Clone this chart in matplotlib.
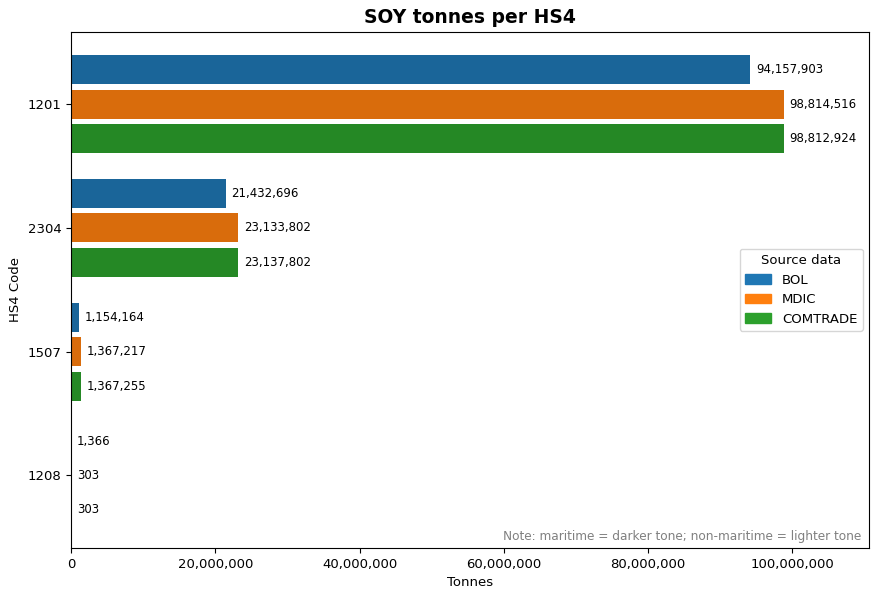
import matplotlib
matplotlib.use("Agg")
import matplotlib.pyplot as plt
import matplotlib.ticker as ticker
import matplotlib.colors as mcolors
from matplotlib.patches import Patch
import numpy as np

HS4_CODES = ["1201", "2304", "1507", "1208"]
SOURCES = ["BOL", "MDIC", "COMTRADE"]
BASE_COLORS = ["#1f77b4", "#ff7f0e", "#2ca02c"]

# total tonnes per source, per HS4 code
BOL_TOTAL = [94157903, 21432696, 1154164, 1366]
MDIC_TOTAL = [98814516, 23133802, 1367217, 303]
COMTRADE_TOTAL = [98812924, 23137802, 1367255, 303]

# maritime share (rest is non-maritime)
BOL_MARITIME = [94157903, 21432696, 1154164, 1366]
MDIC_MARITIME = [98814516, 23133802, 1367217, 303]
COMTRADE_MARITIME = [98812924, 23137802, 1367255, 303]

TOTALS = [BOL_TOTAL, MDIC_TOTAL, COMTRADE_TOTAL]
MARITIME = [BOL_MARITIME, MDIC_MARITIME, COMTRADE_MARITIME]


def _shade(color, factor):
    r, g, b = mcolors.to_rgb(color)
    return (r * factor, g * factor, b * factor)


def _lighten(color, amount):
    r, g, b = mcolors.to_rgb(color)
    return (r + (1 - r) * amount, g + (1 - g) * amount, b + (1 - b) * amount)


fig, ax = plt.subplots(figsize=(8.78, 6.0), dpi=100)

y = np.arange(len(HS4_CODES))
height = 0.235
offsets = [-0.278, 0.0, 0.278]
vmax = max(max(t) for t in TOTALS)

for i, src in enumerate(SOURCES):
    mar = np.array(MARITIME[i], dtype=float)
    tot = np.array(TOTALS[i], dtype=float)
    non = tot - mar
    ax.barh(y + offsets[i], mar, height=height, color=_shade(BASE_COLORS[i], 0.85))
    ax.barh(y + offsets[i], non, left=mar, height=height, color=_lighten(BASE_COLORS[i], 0.45))
    for yy, val in zip(y + offsets[i], tot):
        ax.text(val + vmax * 0.008, yy, f"{val:,.0f}", va="center", ha="left", fontsize=8.5)

ax.set_yticks(y)
ax.set_yticklabels(HS4_CODES)
ax.tick_params(labelsize=9.5)
ax.invert_yaxis()
ax.set_xlim(0, vmax * 1.12)
ax.xaxis.set_major_formatter(ticker.FuncFormatter(lambda x, _: f"{x:,.0f}"))

ax.set_xlabel("Tonnes", fontsize=9.5)
ax.set_ylabel("HS4 Code", fontsize=9.5)
ax.set_title("SOY tonnes per HS4", fontsize=13.5, fontweight="bold")

handles = [Patch(color=c, label=s) for c, s in zip(BASE_COLORS, SOURCES)]
ax.legend(handles=handles, title="Source data", loc="center right", fontsize=9.5, title_fontsize=9.5)

ax.text(0.99, 0.01, "Note: maritime = darker tone; non-maritime = lighter tone",
        transform=ax.transAxes, ha="right", va="bottom", fontsize=8.7, color="gray")

fig.subplots_adjust(left=0.081, right=0.99, top=0.947, bottom=0.087)
fig.savefig("out.png", dpi=100)
plt.close(fig)
